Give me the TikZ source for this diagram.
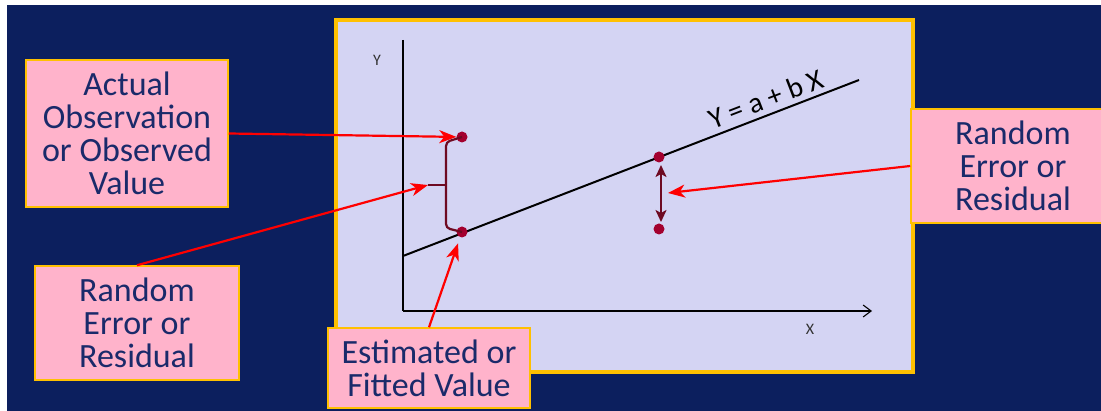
\documentclass[tikz,border=0pt]{standalone}
\usepackage{fontspec}
\setmainfont{Carlito}
\usetikzlibrary{arrows.meta}
\definecolor{navy}{HTML}{0C1F5E}
\definecolor{lav}{HTML}{D4D4F3}
\definecolor{gold}{HTML}{FFC000}
\definecolor{pinkbox}{HTML}{FFB3CB}
\definecolor{txt}{HTML}{1A2A6A}
\definecolor{dotred}{HTML}{A3002E}
\definecolor{maroon}{HTML}{6E0A22}
\tikzset{
  lbl/.style={draw=gold, line width=1.5pt, fill=pinkbox, text=txt, align=center,
    font=\fontsize{34}{33}\selectfont, inner sep=0pt},
  dot/.style={circle, fill=dotred, inner sep=0pt, minimum size=11pt},
  redarrow/.style={draw=red, line width=2.2pt, -{Stealth[length=17pt,width=13pt,inset=5pt]}},
  brk/.style={draw=maroon, line width=2.2pt},
}
\begin{document}
\begin{tikzpicture}[x=1pt,y=-1pt]
\useasboundingbox (0,0) rectangle (1101,411);
\fill[white] (0,0) rectangle (1101,411);
\fill[navy] (7,5) rectangle (1101,411);
% panel
\node[draw=gold, line width=4pt, fill=lav, minimum width=577pt, minimum height=352pt, inner sep=0pt, anchor=north west] (panel) at (334,18) {};
% axes
\coordinate (origin) at (403,311);
\coordinate (ytop) at (403,40);
\coordinate (xend) at (872,311);
\draw[black, line width=1.1pt] (ytop) -- (origin);
\draw[black, line width=1.1pt, -{Straight Barb[length=8pt,width=12pt]}] (origin) -- (xend);
\node[font=\fontsize{16}{17}\selectfont, text=black!80] (ylab) at (377,60) {Y};
\node[font=\fontsize{16}{17}\selectfont, text=black!80] (xlab) at (810,329) {X};
% regression line
\coordinate (l0) at (403,256);
\coordinate (l1) at (859,80);
\draw[black, line width=2pt] (l0) -- (l1);
\node[font=\fontsize{29}{30}\selectfont, text=black, rotate=21.1] (eq) at (766,99) {Y = a + b X};
% points
\node[dot] (obs) at (462,137) {};
\node[dot] (fit) at (462,232) {};
\node[dot] (fit2) at (659,157) {};
\node[dot] (obs2) at (659,229) {};
% bracket
\coordinate (tick) at (428,185);
\draw[brk, rounded corners=4pt] (obs.center) -- (446,142) -- (446,228) -- (fit.center);
\draw[brk] (tick) -- (446,185);
% double arrow
\coordinate (da1) at (661,165);
\coordinate (da2) at (661,222);
\draw[maroon, line width=2.2pt, {Stealth[length=12pt,width=11pt,inset=3pt]}-{Stealth[length=12pt,width=11pt,inset=3pt]}] (da1) -- (da2);
\coordinate (r4) at (668,193);
% label boxes
\node[lbl, minimum width=202pt, minimum height=147pt] (b1) at (127,133.5) {Actual\\Observation\\or Observed\\Value};
\node[lbl, minimum width=204pt, minimum height=114pt] (b2) at (137,323) {Random\\Error or\\Residual};
\node[lbl, minimum width=202pt, minimum height=80pt] (b3) at (429,368) {Estimated or\\Fitted Value};
\node[lbl, minimum width=204pt, minimum height=114pt] (b4) at (1013,166) {Random\\Error or\\Residual};
% red arrows
\draw[redarrow] (b1.east) -- (obs);
\draw[redarrow] (b2.north) -- (tick);
\draw[redarrow, shorten >=12pt] (b3.north) -- (fit.center);
\draw[redarrow] (b4.west) -- (r4);
\end{tikzpicture}
\end{document}
